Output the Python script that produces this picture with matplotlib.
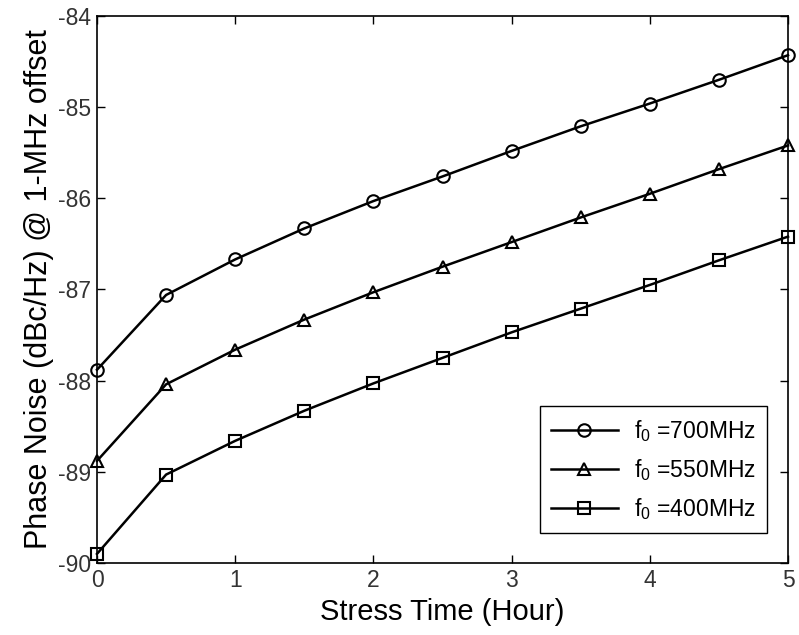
import matplotlib
matplotlib.use("Agg")
import matplotlib.pyplot as plt

# stress time (hours) and phase noise (dBc/Hz @ 1 MHz offset)
hours = [0, 0.5, 1, 1.5, 2, 2.5, 3, 3.5, 4, 4.5, 5]
pn_700 = [-87.88, -87.06, -86.67, -86.33, -86.03, -85.76, -85.48, -85.21, -84.96, -84.70, -84.43]
pn_550 = [-88.88, -88.04, -87.66, -87.33, -87.03, -86.75, -86.48, -86.21, -85.95, -85.68, -85.42]
pn_400 = [-89.90, -89.03, -88.66, -88.33, -88.03, -87.75, -87.47, -87.21, -86.95, -86.68, -86.42]
labels = [r"f$_0$ =700MHz", r"f$_0$ =550MHz", r"f$_0$ =400MHz"]
markers = ["o", "^", "s"]

plt.rcParams["font.family"] = ["Liberation Sans", "DejaVu Sans"]
plt.rcParams["mathtext.fontset"] = "custom"
plt.rcParams["mathtext.rm"] = "Liberation Sans"
plt.rcParams["mathtext.it"] = "Liberation Sans"
plt.rcParams["axes.unicode_minus"] = False

fig = plt.figure(figsize=(7.99, 6.35), dpi=100)
ax = fig.add_axes([97 / 799, 1 - 563 / 635, (788 - 97) / 799, (563 - 16) / 635])

for y, lab, m in zip([pn_700, pn_550, pn_400], labels, markers):
    ax.plot(hours, y, color="black", lw=1.8, marker=m, ms=9,
            mfc="none", mec="black", mew=1.5, label=lab, clip_on=False, zorder=3)

ax.set_xlim(0, 5)
ax.set_ylim(-90, -84)
ax.set_xticks(range(0, 6))
ax.set_yticks(range(-90, -83))
ax.tick_params(direction="in", top=True, right=True, length=6, width=1,
               labelsize=16.5, labelcolor="#333333", pad=4)
for s in ax.spines.values():
    s.set_linewidth(1.2)

ax.set_xlabel("Stress Time (Hour)", fontsize=21, labelpad=5)
ax.set_ylabel("Phase Noise (dBc/Hz) @ 1-MHz offset", fontsize=22, labelpad=3)

leg = ax.legend(loc="lower right", bbox_to_anchor=(0.986, 0.033), fontsize=16.5,
                fancybox=False, edgecolor="black", framealpha=1,
                handlelength=2.9, handletextpad=0.7, borderpad=0.5,
                labelspacing=0.58)
leg.get_frame().set_linewidth(1.0)

fig.savefig("out.png", dpi=100)
